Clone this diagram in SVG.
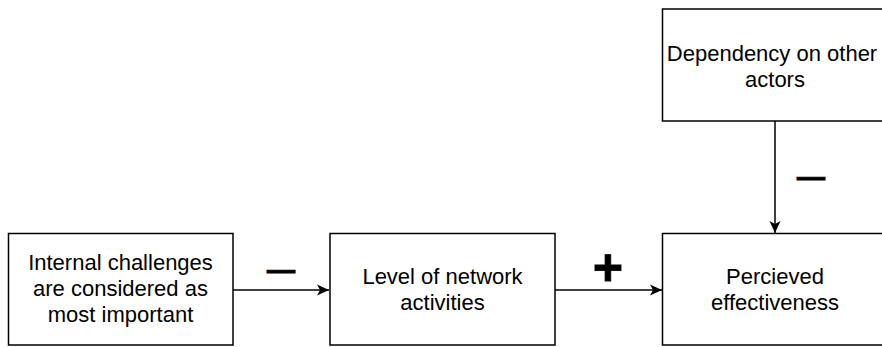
<svg xmlns="http://www.w3.org/2000/svg" width="882" height="347" viewBox="0 0 882 347">
<style>
.box{fill:#fff;stroke:#000;stroke-width:1.5}
.t{font-family:"Liberation Sans",Arial,Helvetica,sans-serif;font-size:22px;fill:#000;text-anchor:middle}
.edge{stroke:#000;stroke-width:1.5;fill:none}
.sign{font-family:"Liberation Sans",Arial,sans-serif;font-weight:bold;fill:#000;stroke:#000;text-anchor:middle}
</style>
<defs>
<marker id="arr" viewBox="0 0 12 12" refX="12" refY="6" markerWidth="12" markerHeight="12" markerUnits="userSpaceOnUse" orient="auto">
<path d="M0,0.5 L12,6 L0,11.5 L3,6 Z" fill="#000"/>
</marker>
</defs>
<rect width="882" height="347" fill="#fff"/>
<g id="n1">
<rect class="box" x="8.5" y="233.5" width="224.5" height="111.5"/>
<text class="t" x="120.5" y="270">Internal challenges</text>
<text class="t" x="120.5" y="296">are considered as</text>
<text class="t" x="120.5" y="322">most important</text>
</g>
<g id="n2">
<rect class="box" x="330" y="233.5" width="225" height="111.5"/>
<text class="t" x="442.5" y="284">Level of network</text>
<text class="t" x="442.5" y="310">activities</text>
</g>
<g id="n3">
<rect class="box" x="662.5" y="233.5" width="225" height="111.5"/>
<text class="t" x="775" y="284">Percieved</text>
<text class="t" x="775" y="310">effectiveness</text>
</g>
<g id="n4">
<rect class="box" x="662.5" y="9" width="225" height="112"/>
<text class="t" x="772" y="61">Dependency on other</text>
<text class="t" x="775" y="87">actors</text>
</g>
<g id="edges">
<line class="edge" x1="233" y1="290" x2="329" y2="290" marker-end="url(#arr)"/>
<line class="edge" x1="555" y1="290" x2="662" y2="290" marker-end="url(#arr)"/>
<line class="edge" x1="775" y1="121" x2="775" y2="233" marker-end="url(#arr)"/>
<text class="sign" x="281" y="279" font-size="28" stroke-width="1">—</text>
<text class="sign" x="608" y="285" font-size="52" stroke-width="0.8">+</text>
<text class="sign" x="811" y="186" font-size="28" stroke-width="1">—</text>
</g>
</svg>
